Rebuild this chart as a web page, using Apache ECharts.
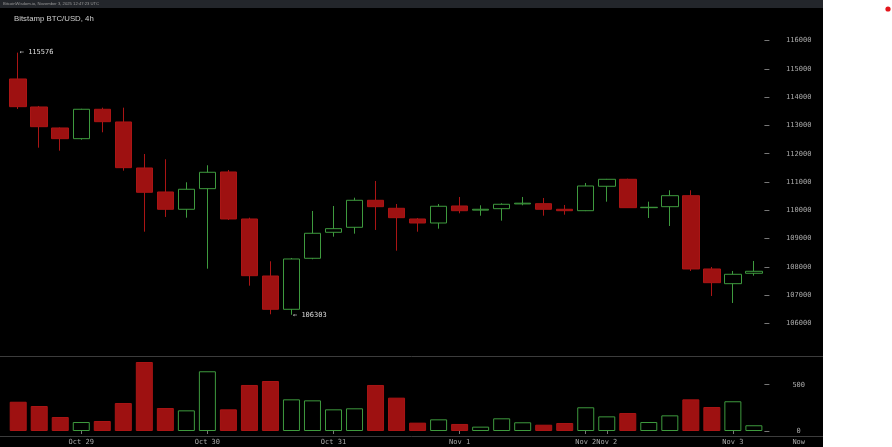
<!DOCTYPE html>
<html>
<head>
<meta charset="utf-8">
<script src="https://cdn.jsdelivr.net/npm/echarts@6/dist/echarts.min.js"></script>
<style>
  html, body { margin: 0; padding: 0; background: #fff; }
  #wrap { position: relative; width: 892px; height: 447px; overflow: hidden; }
  #bg { position: absolute; left: 0; top: 0; width: 823px; height: 447px; background: #000; }
  #strip { position: absolute; left: 0; top: 0; width: 823px; height: 8px; background: #23262b; }
  #chart { position: absolute; left: 0; top: 0; width: 892px; height: 447px; }
</style>
</head>
<body>
<div id="wrap">
  <div id="bg"></div>
  <div id="strip"></div>
  <div id="chart"></div>
</div>
<script>
// ---- data ----
const categories = ['', '', '', 'Oct 29', '', '', '', '', '', 'Oct 30', '', '', '', '', '', 'Oct 31', '', '', '', '', '', 'Nov 1', '', '', '', '', '', 'Nov 2', 'Nov 2', '', '', '', '', '', 'Nov 3', ''];
const opens  = [114645,113654,112911,112533,113573,113124,111496,110647,110035,110764,111355,109692,107675,106497,108301,109221,109398,110353,110070,109692,109550,110152,110005,110056,110225,110233,110035,109985,110849,111096,110092,110127,110516,107923,107403,107771];
const closes = [113665,112957,112533,113573,113134,111507,110636,110035,110743,111344,109692,107686,106497,108277,109186,109349,110353,110127,109738,109550,110141,109985,110035,110212,110250,110035,109985,110859,111096,110092,110106,110516,107923,107438,107735,107841];
const lows   = [113584,112214,112108,112497,112759,111401,109242,109763,109738,107933,109657,107332,106320,106303,108266,109066,109172,109303,108570,109242,109349,109893,109808,109632,110176,109808,109844,109970,110304,110080,109727,109444,107852,106967,106720,107686];
const highs  = [115576,113690,112930,113590,113630,113630,111991,111804,110990,111592,111425,109738,108195,108312,109975,110152,110445,111036,110222,109727,110222,110470,110176,110247,110470,110435,110187,110965,111110,111118,110304,110707,110707,107994,107852,108206];
const volumes = [316,270,151,97,108,302,745,248,223,645,234,497,540,342,331,234,245,497,360,90,126,76,47,137,94,68,86,256,158,194,97,169,342,259,321,62];
const priceTicks = [106000,107000,108000,109000,110000,111000,112000,113000,114000,115000,116000];
const volumeTicks = [0, 500];
const titleText = 'Bitstamp BTC/USD, 4h';
const stripText = 'BitcoinWisdom.io, November 3, 2025 12:47:23 UTC';
const nowText = 'Now';

// ---- styles ----
const RED = '#9e1111';
const RED_B = '#aa1515';
const GREEN = '#3e9a3e';
const AXIS_TXT = '#aaaaaa';
const MONO = 'DejaVu Sans Mono';

const candleData = opens.map((o, i) => [o, closes[i], lows[i], highs[i]]);
const volData = volumes.map((v, i) => {
  const up = closes[i] >= opens[i];
  return {
    value: v,
    itemStyle: up
      ? { color: '#000', borderColor: GREEN, borderWidth: 1 }
      : { color: RED, borderColor: RED_B, borderWidth: 1 }
  };
});

const GL = 7.7, GR = 892 - 764.4;
const labelShown = (i) => categories[i] !== '';

const chart = echarts.init(document.getElementById('chart'), null, { renderer: 'canvas' });
chart.setOption({
  backgroundColor: 'transparent',
  animation: false,
  title: {
    text: titleText, left: 9, top: 9.5,
    textStyle: { fontSize: 7.8, fontWeight: 'normal', color: '#cfcfcf', fontFamily: 'Liberation Sans' }
  },
  graphic: [
    { type: 'text', left: 3, top: 1.5, silent: true,
      style: { text: stripText, fill: '#9a9a9a', font: '4.2px "Liberation Sans"' } },
    { type: 'text', x: 798.7, y: 442, silent: true,
      style: { text: nowText, fill: AXIS_TXT, font: '7px "DejaVu Sans Mono"', align: 'center', verticalAlign: 'middle' } },
    { type: 'circle', shape: { cx: 888, cy: 9, r: 2.6 }, style: { fill: '#e3161c' }, silent: true },
    { type: 'line', shape: { x1: 0, y1: 356.5, x2: 823, y2: 356.5 }, style: { stroke: '#3c3c3c', lineWidth: 1 }, silent: true },
    { type: 'line', shape: { x1: 0, y1: 436.5, x2: 823, y2: 436.5 }, style: { stroke: '#3c3c3c', lineWidth: 1 }, silent: true }
  ],
  grid: [
    { left: GL, right: GR, top: 12.4, height: 339.2 },
    { left: GL, right: GR, top: 356, height: 80 }
  ],
  xAxis: [
    { type: 'category', gridIndex: 0, data: categories, boundaryGap: true, show: false },
    { type: 'category', gridIndex: 1, data: categories, boundaryGap: true,
      axisLine: { show: false },
      axisTick: { show: true, alignWithLabel: true, length: 3, interval: (i) => labelShown(i), lineStyle: { color: '#777' } },
      axisLabel: { interval: 0, margin: 2.5, color: AXIS_TXT, fontFamily: MONO, fontSize: 7 }
    }
  ],
  yAxis: [
    { type: 'value', gridIndex: 0, position: 'right', min: 105000, max: 117000, scale: true,
      splitLine: { show: false }, axisLine: { show: false },
      axisTick: { show: true, length: 5, customValues: priceTicks, lineStyle: { color: '#777' } },
      axisLabel: { customValues: priceTicks, align: 'center', margin: 34.3, color: AXIS_TXT, fontFamily: MONO, fontSize: 7, formatter: (v) => String(v) }
    },
    { type: 'value', gridIndex: 1, position: 'right', min: -54, max: 810,
      splitLine: { show: false }, axisLine: { show: false },
      axisTick: { show: true, length: 5, customValues: volumeTicks, lineStyle: { color: '#777' } },
      axisLabel: { customValues: volumeTicks, align: 'center', margin: 34.3, color: AXIS_TXT, fontFamily: MONO, fontSize: 7, formatter: (v) => String(v) }
    }
  ],
  series: [
    { type: 'candlestick', xAxisIndex: 0, yAxisIndex: 0, data: candleData, barWidth: 17,
      itemStyle: { color: '#000', color0: RED, borderColor: GREEN, borderColor0: RED_B, borderWidth: 1 },
      markPoint: {
        symbol: 'circle', symbolSize: 0, silent: true,
        data: [ { type: 'max', valueDim: 'highest' }, { type: 'min', valueDim: 'lowest' } ],
        label: { show: true, position: 'right', distance: 1.5, color: '#dcdcdc', fontFamily: MONO, fontSize: 7,
                 formatter: (p) => '\u2190 ' + p.value }
      }
    },
    { type: 'bar', xAxisIndex: 1, yAxisIndex: 1, data: volData, barWidth: 17 }
  ]
});
</script>
</body>
</html>
